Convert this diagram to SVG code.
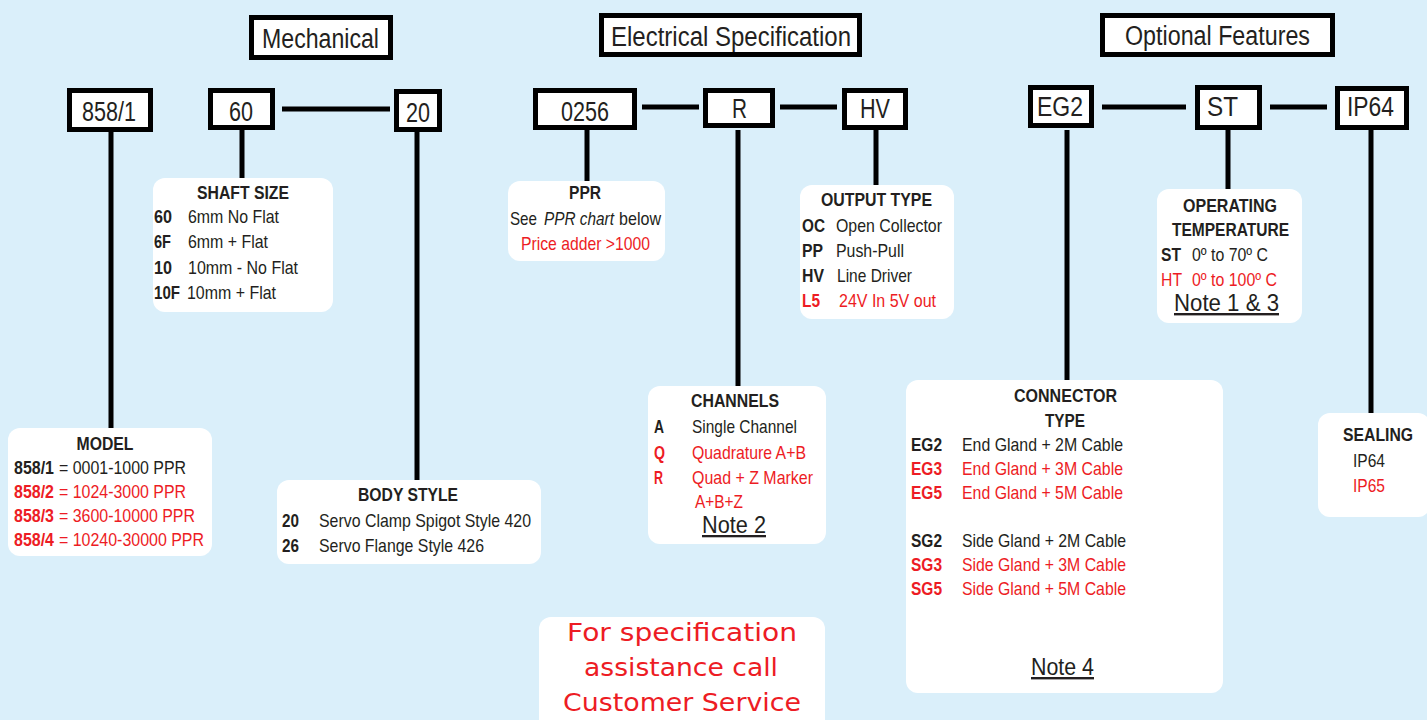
<svg xmlns="http://www.w3.org/2000/svg" width="1427" height="720" viewBox="0 0 1427 720">
<style>
text{font-family:"Liberation Sans",Arial,sans-serif;fill:#231F20}
.hb{fill:#fff;stroke:#000;stroke-width:5}
.hd{font-size:27px;text-anchor:middle}
.ib{fill:#fff}
.t{font-size:19px}
.ti{font-size:19px;font-weight:bold;text-anchor:middle}
.b{font-weight:bold}
.r{fill:#ED1C24}
.m{text-anchor:middle}
.i{font-style:italic}
.n{font-size:24px;text-anchor:middle;text-decoration:underline}
.ln{stroke:#000;stroke-width:5;fill:none}
.cs{font-family:"DejaVu Sans",Verdana,sans-serif;font-size:25px;fill:#ED1C24;text-anchor:middle}
</style>
<rect width="1427" height="720" fill="#DAEFFA"/>
<g id="connectors">
<path class="ln" d="M111 132V430M242 130V180M417 132V482M282 109H390M587 130V183M738 130V389M876 130V187M642 107H699M780 107H837M1067 130V382M1228 130V192M1371 130V415M1102 107H1186M1270 107H1327"/>
</g>
<g id="hdr-mech"><rect class="hb" x="251.5" y="17.5" width="139" height="40"/><text class="hd" x="320.5" y="48" textLength="117" lengthAdjust="spacingAndGlyphs">Mechanical</text></g>
<g id="hdr-elec"><rect class="hb" x="601.5" y="15.5" width="258" height="39"/><text class="hd" x="731" y="46" textLength="240" lengthAdjust="spacingAndGlyphs">Electrical Specification</text></g>
<g id="hdr-opt"><rect class="hb" x="1102.5" y="15.5" width="230" height="39"/><text class="hd" x="1217.5" y="45" textLength="185" lengthAdjust="spacingAndGlyphs">Optional Features</text></g>
<g id="c-858"><rect class="hb" x="69.5" y="90.5" width="81" height="39"/><text class="hd" x="109" y="121" textLength="54" lengthAdjust="spacingAndGlyphs">858/1</text></g>
<g id="c-60"><rect class="hb" x="210.5" y="90.5" width="62" height="37"/><text class="hd" x="241" y="121" textLength="24" lengthAdjust="spacingAndGlyphs">60</text></g>
<g id="c-20"><rect class="hb" x="396.5" y="91.5" width="43" height="38"/><text class="hd" x="418" y="122" textLength="24" lengthAdjust="spacingAndGlyphs">20</text></g>
<g id="c-0256"><rect class="hb" x="535.5" y="90.5" width="99" height="37"/><text class="hd" x="585" y="120.5" textLength="48" lengthAdjust="spacingAndGlyphs">0256</text></g>
<g id="c-R"><rect class="hb" x="705.5" y="90.5" width="67" height="35"/><text class="hd" x="739.5" y="118" textLength="15" lengthAdjust="spacingAndGlyphs">R</text></g>
<g id="c-HV"><rect class="hb" x="844.5" y="90.5" width="61" height="37"/><text class="hd" x="875" y="118" textLength="30" lengthAdjust="spacingAndGlyphs">HV</text></g>
<g id="c-EG2"><rect class="hb" x="1030.5" y="87.5" width="61" height="38"/><text class="hd" x="1060" y="116" textLength="46" lengthAdjust="spacingAndGlyphs">EG2</text></g>
<g id="c-ST"><rect class="hb" x="1197.5" y="87.5" width="62" height="40"/><text class="hd" x="1222.5" y="115.5" textLength="31" lengthAdjust="spacingAndGlyphs">ST</text></g>
<g id="c-IP64"><rect class="hb" x="1337.5" y="88.5" width="69" height="39"/><text class="hd" x="1370.5" y="116" textLength="47" lengthAdjust="spacingAndGlyphs">IP64</text></g>

<g id="shaft"><rect class="ib" x="153" y="178" width="180" height="134" rx="12"/>
<text class="ti" x="243" y="199" textLength="92" lengthAdjust="spacingAndGlyphs">SHAFT SIZE</text>
<text class="t b" x="154" y="223" textLength="18" lengthAdjust="spacingAndGlyphs">60</text><text class="t" x="188" y="223" textLength="91" lengthAdjust="spacingAndGlyphs">6mm No Flat</text>
<text class="t b" x="154" y="248" textLength="17" lengthAdjust="spacingAndGlyphs">6F</text><text class="t" x="188" y="248" textLength="80" lengthAdjust="spacingAndGlyphs">6mm + Flat</text>
<text class="t b" x="154" y="274" textLength="18" lengthAdjust="spacingAndGlyphs">10</text><text class="t" x="188" y="274" textLength="110" lengthAdjust="spacingAndGlyphs">10mm - No Flat</text>
<text class="t b" x="154" y="299" textLength="26" lengthAdjust="spacingAndGlyphs">10F</text><text class="t" x="187" y="299" textLength="89" lengthAdjust="spacingAndGlyphs">10mm + Flat</text>
</g>
<g id="model"><rect class="ib" x="8" y="428" width="204" height="128" rx="12"/>
<text class="ti" x="105" y="450" textLength="57" lengthAdjust="spacingAndGlyphs">MODEL</text>
<text class="t b" x="14" y="474" textLength="40" lengthAdjust="spacingAndGlyphs">858/1</text><text class="t" x="59" y="474" textLength="127" lengthAdjust="spacingAndGlyphs">= 0001-1000 PPR</text>
<text class="t b r" x="14" y="498" textLength="40" lengthAdjust="spacingAndGlyphs">858/2</text><text class="t r" x="59" y="498" textLength="127" lengthAdjust="spacingAndGlyphs">= 1024-3000 PPR</text>
<text class="t b r" x="14" y="522" textLength="40" lengthAdjust="spacingAndGlyphs">858/3</text><text class="t r" x="59" y="522" textLength="136" lengthAdjust="spacingAndGlyphs">= 3600-10000 PPR</text>
<text class="t b r" x="14" y="546" textLength="40" lengthAdjust="spacingAndGlyphs">858/4</text><text class="t r" x="59" y="546" textLength="145" lengthAdjust="spacingAndGlyphs">= 10240-30000 PPR</text>
</g>
<g id="body"><rect class="ib" x="277" y="480" width="264" height="84" rx="12"/>
<text class="ti" x="408" y="501" textLength="100" lengthAdjust="spacingAndGlyphs">BODY STYLE</text>
<text class="t b" x="282" y="527" textLength="17" lengthAdjust="spacingAndGlyphs">20</text><text class="t" x="319" y="527" textLength="212" lengthAdjust="spacingAndGlyphs">Servo Clamp Spigot Style 420</text>
<text class="t b" x="282" y="552" textLength="17" lengthAdjust="spacingAndGlyphs">26</text><text class="t" x="319" y="552" textLength="165" lengthAdjust="spacingAndGlyphs">Servo Flange Style 426</text>
</g>
<g id="ppr"><rect class="ib" x="508" y="181" width="157" height="80" rx="12"/>
<text class="ti" x="585" y="199" textLength="32" lengthAdjust="spacingAndGlyphs">PPR</text>
<text class="t" x="510" y="225" textLength="27" lengthAdjust="spacingAndGlyphs">See</text>
<text class="t i" x="544" y="225" textLength="70" lengthAdjust="spacingAndGlyphs">PPR chart</text>
<text class="t" x="619" y="225" textLength="42" lengthAdjust="spacingAndGlyphs">below</text>
<text class="t m r" x="585.5" y="250" textLength="129" lengthAdjust="spacingAndGlyphs">Price adder &gt;1000</text>
</g>
<g id="output"><rect class="ib" x="800" y="185" width="154" height="134" rx="12"/>
<text class="ti" x="876.5" y="206" textLength="111" lengthAdjust="spacingAndGlyphs">OUTPUT TYPE</text>
<text class="t b" x="802" y="232" textLength="23" lengthAdjust="spacingAndGlyphs">OC</text><text class="t" x="836" y="232" textLength="106" lengthAdjust="spacingAndGlyphs">Open Collector</text>
<text class="t b" x="802" y="257" textLength="21" lengthAdjust="spacingAndGlyphs">PP</text><text class="t" x="836" y="257" textLength="68" lengthAdjust="spacingAndGlyphs">Push-Pull</text>
<text class="t b" x="802" y="282" textLength="22" lengthAdjust="spacingAndGlyphs">HV</text><text class="t" x="837" y="282" textLength="75" lengthAdjust="spacingAndGlyphs">Line Driver</text>
<text class="t b r" x="802" y="307" textLength="18" lengthAdjust="spacingAndGlyphs">L5</text><text class="t r" x="839" y="307" textLength="97" lengthAdjust="spacingAndGlyphs">24V In 5V out</text>
</g>
<g id="channels"><rect class="ib" x="648" y="386" width="178" height="158" rx="12"/>
<text class="ti" x="735" y="407" textLength="88" lengthAdjust="spacingAndGlyphs">CHANNELS</text>
<text class="t b" x="654" y="433" textLength="10" lengthAdjust="spacingAndGlyphs">A</text><text class="t" x="692" y="433" textLength="105" lengthAdjust="spacingAndGlyphs">Single Channel</text>
<text class="t b r" x="654" y="459" textLength="11" lengthAdjust="spacingAndGlyphs">Q</text><text class="t r" x="692" y="459" textLength="114" lengthAdjust="spacingAndGlyphs">Quadrature A+B</text>
<text class="t b r" x="654" y="484" textLength="9" lengthAdjust="spacingAndGlyphs">R</text><text class="t r" x="692" y="484" textLength="121" lengthAdjust="spacingAndGlyphs">Quad + Z Marker</text>
<text class="t r" x="695" y="508" textLength="48" lengthAdjust="spacingAndGlyphs">A+B+Z</text>
<text class="n" x="734" y="533" textLength="64" lengthAdjust="spacingAndGlyphs" style="font-size:23px">Note 2</text>
</g>
<g id="connector"><rect class="ib" x="906" y="380" width="317" height="313" rx="12"/>
<text class="ti" x="1065.5" y="402" textLength="103" lengthAdjust="spacingAndGlyphs">CONNECTOR</text>
<text class="ti" x="1065" y="427" textLength="40" lengthAdjust="spacingAndGlyphs">TYPE</text>
<text class="t b" x="911" y="451" textLength="31" lengthAdjust="spacingAndGlyphs">EG2</text><text class="t" x="962" y="451" textLength="161" lengthAdjust="spacingAndGlyphs">End Gland + 2M Cable</text>
<text class="t b r" x="911" y="475" textLength="31" lengthAdjust="spacingAndGlyphs">EG3</text><text class="t r" x="962" y="475" textLength="161" lengthAdjust="spacingAndGlyphs">End Gland + 3M Cable</text>
<text class="t b r" x="911" y="499" textLength="31" lengthAdjust="spacingAndGlyphs">EG5</text><text class="t r" x="962" y="499" textLength="161" lengthAdjust="spacingAndGlyphs">End Gland + 5M Cable</text>
<text class="t b" x="911" y="547" textLength="31" lengthAdjust="spacingAndGlyphs">SG2</text><text class="t" x="962" y="547" textLength="164" lengthAdjust="spacingAndGlyphs">Side Gland + 2M Cable</text>
<text class="t b r" x="911" y="571" textLength="31" lengthAdjust="spacingAndGlyphs">SG3</text><text class="t r" x="962" y="571" textLength="164" lengthAdjust="spacingAndGlyphs">Side Gland + 3M Cable</text>
<text class="t b r" x="911" y="595" textLength="31" lengthAdjust="spacingAndGlyphs">SG5</text><text class="t r" x="962" y="595" textLength="164" lengthAdjust="spacingAndGlyphs">Side Gland + 5M Cable</text>
<text class="n" x="1062.5" y="675" textLength="63" lengthAdjust="spacingAndGlyphs">Note 4</text>
</g>
<g id="temp"><rect class="ib" x="1157" y="189" width="145" height="134" rx="12"/>
<text class="ti" x="1230" y="212" textLength="94" lengthAdjust="spacingAndGlyphs">OPERATING</text>
<text class="ti" x="1230.5" y="236" textLength="117" lengthAdjust="spacingAndGlyphs">TEMPERATURE</text>
<text class="t b" x="1161" y="261" textLength="20" lengthAdjust="spacingAndGlyphs">ST</text><text class="t" x="1192" y="261" textLength="76" lengthAdjust="spacingAndGlyphs">0º to 70º C</text>
<text class="t r" x="1161" y="286" textLength="21" lengthAdjust="spacingAndGlyphs">HT</text><text class="t r" x="1192" y="286" textLength="85" lengthAdjust="spacingAndGlyphs">0º to 100º C</text>
<text class="n" x="1226.5" y="311" textLength="105" lengthAdjust="spacingAndGlyphs">Note 1 &amp; 3</text>
</g>
<g id="sealing"><rect class="ib" x="1318" y="413" width="112" height="104" rx="12"/>
<text class="ti" x="1378" y="441" textLength="70" lengthAdjust="spacingAndGlyphs">SEALING</text>
<text class="t" x="1353" y="467" textLength="32" lengthAdjust="spacingAndGlyphs">IP64</text>
<text class="t r" x="1353" y="492" textLength="32" lengthAdjust="spacingAndGlyphs">IP65</text>
</g>
<g id="service"><rect class="ib" x="539" y="617" width="286" height="115" rx="12"/>
<text class="cs" x="682" y="641" textLength="230" lengthAdjust="spacingAndGlyphs">For specification</text>
<text class="cs" x="681" y="676" textLength="194" lengthAdjust="spacingAndGlyphs">assistance call</text>
<text class="cs" x="682" y="711" textLength="238" lengthAdjust="spacingAndGlyphs">Customer Service</text>
</g>
</svg>
